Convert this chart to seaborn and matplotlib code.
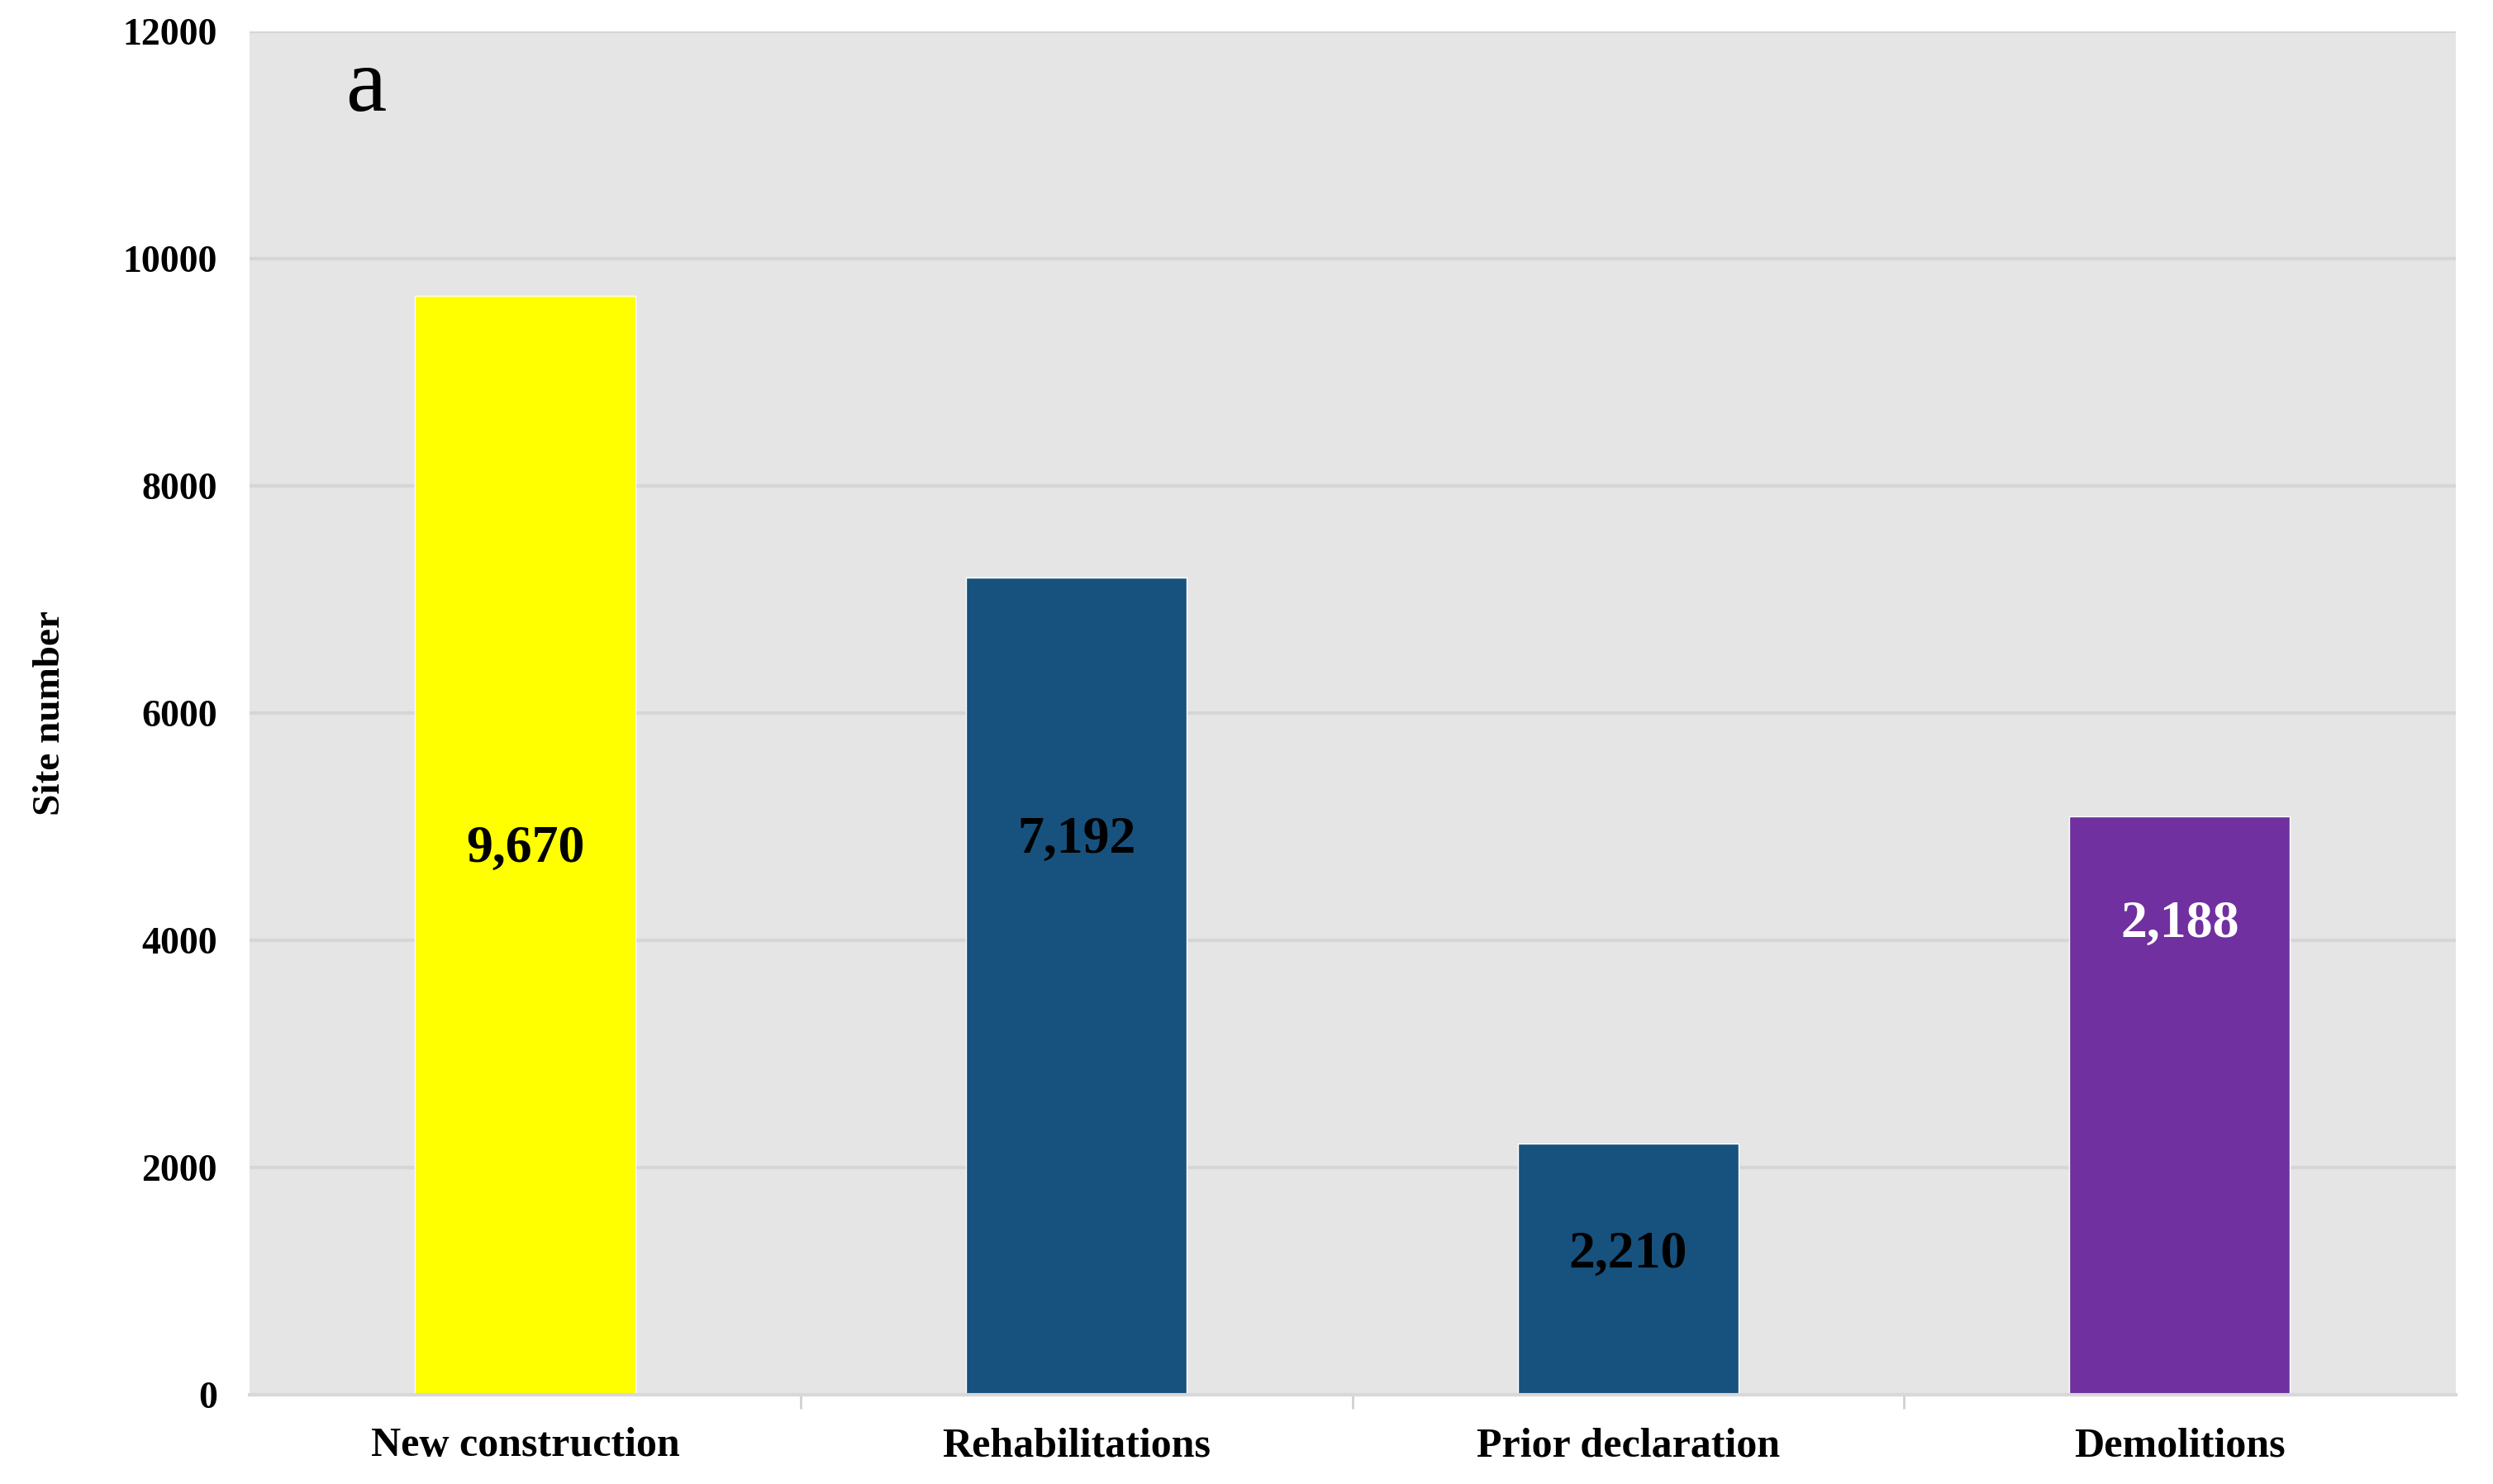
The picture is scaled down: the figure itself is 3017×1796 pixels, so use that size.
import matplotlib
matplotlib.use("Agg")
import matplotlib.pyplot as plt
import seaborn as sns
import pandas as pd

CATEGORIES = ["New construction", "Rehabilitations", "Prior declaration", "Demolitions"]
SITE_COUNTS = [9670, 7192, 2210, 5090]
BAR_LABELS = ["9,670", "7,192", "2,210", "2,188"]
LABEL_Y = [4800, 4880, 1230, 4140]
LABEL_COLORS = ["black", "black", "black", "white"]
BAR_COLORS = ["#FFFF00", "#17527E", "#17527E", "#7030A0"]
Y_TICKS = [0, 2000, 4000, 6000, 8000, 10000, 12000]

sns.set_theme(style="darkgrid")
plt.rcParams["font.family"] = ["Liberation Serif", "DejaVu Serif"]
plt.rcParams["text.color"] = "black"
plt.rcParams["axes.labelcolor"] = "black"
plt.rcParams["xtick.color"] = "black"
plt.rcParams["ytick.color"] = "black"

df = pd.DataFrame({"category": CATEGORIES, "sites": SITE_COUNTS})

fig = plt.figure(figsize=(30.17, 17.96), dpi=100)
ax = fig.add_axes([0.100, 0.060, 0.885, 0.919])
ax.set_facecolor("#E5E5E5")

sns.barplot(data=df, x="category", y="sites", hue="category",
            palette=BAR_COLORS, width=0.4, saturation=1, legend=False, ax=ax)

for i, (txt, yv, col) in enumerate(zip(BAR_LABELS, LABEL_Y, LABEL_COLORS)):
    ax.text(i, yv, txt, ha="center", va="center", fontsize=46,
            fontweight="bold", color=col)

ax.text(0.053, 0.958, "a", transform=ax.transAxes, ha="center", va="center",
        fontsize=80, color="black")

ax.set_xlim(-0.5, 3.5)
ax.set_ylim(0, 12000)
ax.set_yticks(Y_TICKS)
ax.set_yticklabels([str(t) for t in Y_TICKS], fontsize=33, fontweight="bold")
ax.set_xticks(range(len(CATEGORIES)))
ax.set_xticklabels(CATEGORIES, fontsize=36, fontweight="bold")
ax.set_xlabel("")
ax.set_ylabel("Site number", fontsize=34, fontweight="bold", labelpad=48)

ax.grid(axis="y", color="#D6D6D6", linewidth=3)
ax.grid(axis="x", visible=False)
ax.tick_params(axis="y", length=0, pad=28)
ax.tick_params(axis="x", length=0, pad=28)
ax.set_xticks([0.5, 1.5, 2.5], minor=True)
ax.tick_params(axis="x", which="minor", length=12, width=2, color="#D0D0D0",
               bottom=True)

for side in ["top", "right", "left"]:
    ax.spines[side].set_visible(False)
ax.spines["bottom"].set_visible(True)
ax.spines["bottom"].set_color("#D8D8D8")
ax.spines["bottom"].set_linewidth(3)

fig.savefig("out.png", dpi=100, facecolor="white")
